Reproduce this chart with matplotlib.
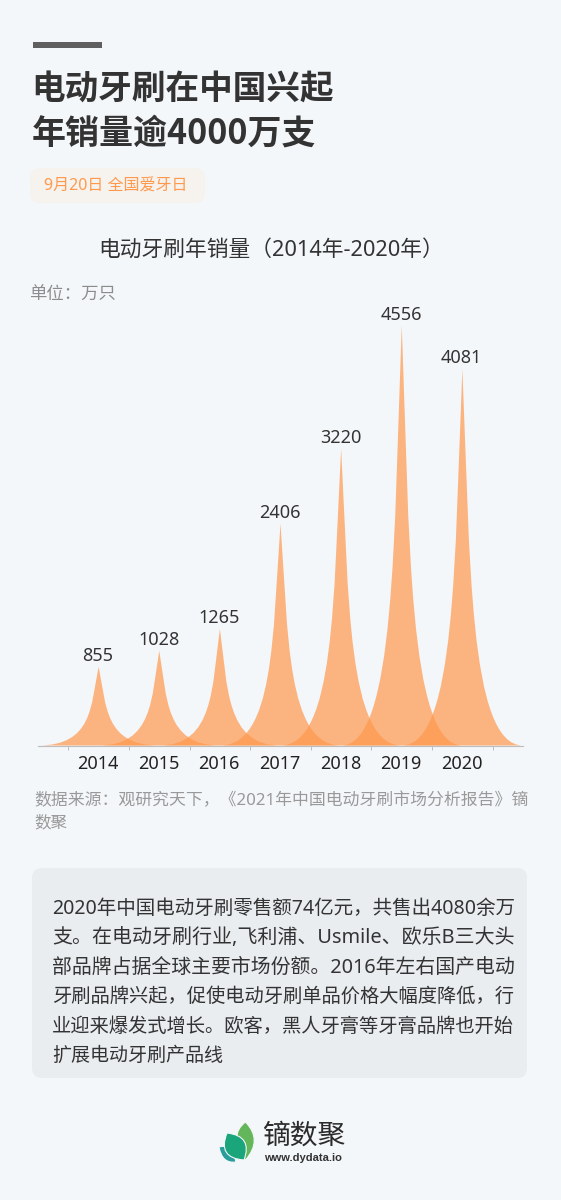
import matplotlib
matplotlib.use('Agg')
from matplotlib import pyplot as plt
from matplotlib.patches import FancyBboxPatch, PathPatch
from matplotlib.path import Path

plt.rcParams['font.family'] = ['Noto Sans', 'Noto Sans CJK SC', 'DejaVu Sans']

W = 561
H = 1200
BG = '#F4F7FA'

years = ['2014', '2015', '2016', '2017', '2018', '2019', '2020']
sales = [855, 1028, 1265, 2406, 3220, 4556, 4081]

title_lines = ['电动牙刷在中国兴起', '年销量逾4000万支']
body_lines = [
    '2020年中国电动牙刷零售额74亿元，共售出4080余万',
    '支。在电动牙刷行业,飞利浦、Usmile、欧乐B三大头',
    '部品牌占据全球主要市场份额。2016年左右国产电动',
    '牙刷品牌兴起，促使电动牙刷单品价格大幅度降低，行',
    '业迎来爆发式增长。欧客，黑人牙膏等牙膏品牌也开始',
    '扩展电动牙刷产品线',
]

fig = plt.figure(figsize=(W / 100, H / 100), dpi=100, facecolor=BG)

# full page layer, works in pixels from the top left
page = fig.add_axes([0, 0, 1, 1])
page.set_xlim(0, W)
page.set_ylim(H, 0)
page.axis('off')


def rounded(x0, y0, x1, y1, r, color):
    page.add_patch(FancyBboxPatch((x0 + r, y0 + r), x1 - x0 - 2 * r, y1 - y0 - 2 * r,
                                  boxstyle='round,pad=%d,rounding_size=%d' % (r, r),
                                  fc=color, ec='none'))


def fit_text(x, y, s, size, color, width):
    # the original lines are justified, so nudge the size until the line fills its width
    t = page.text(x, y, s, fontsize=size, color=color, va='center')
    w = t.get_window_extent(fig.canvas.get_renderer()).width
    t.set_fontsize(size * width / w)
    return t


def leaf(start, c1, end, c2, color):
    # two sided leaf, curve out through c1 and back through c2
    p = Path([start, c1, end, c2, start, start],
             [Path.MOVETO, Path.CURVE3, Path.CURVE3, Path.CURVE3, Path.CURVE3, Path.CLOSEPOLY])
    page.add_patch(PathPatch(p, fc=color, ec=BG, lw=0.8))


page.add_patch(plt.Rectangle((33, 42), 69, 6, fc='#5F5F5F', ec='none'))
# Noto Sans has no bold here, so the title stays in the CJK face for its digits too
page.text(31, 89, title_lines[0], fontsize=24.2, fontweight='bold', color='#333333', va='center',
          family='Noto Sans CJK SC')
page.text(31.5, 133, title_lines[1], fontsize=24.5, fontweight='bold', color='#333333', va='center',
          family='Noto Sans CJK SC')

rounded(30, 168, 205, 203, 10, '#F6F2EE')
page.text(44, 187, '9月20日 全国爱牙日', fontsize=11.5, color='#FF9A4D', va='center')

fit_text(98, 250, '电动牙刷年销量（2014年-2020年）', 15.6, '#333333', 345)
page.text(29, 295, '单位：万只', fontsize=12.5, color='#8C8C8C', va='center')

fit_text(34.5, 801, '数据来源：观研究天下，《2021年中国电动牙刷市场分析报告》镝', 11.9, '#999999', 493)
page.text(34.5, 823, '数聚', fontsize=11.9, color='#999999', va='center')

rounded(32, 868, 527, 1078, 10, '#E9EDF0')
for i, line in enumerate(body_lines):
    y = 909 + i * 29.4
    if i < len(body_lines) - 1:
        fit_text(52, y, line, 13.7, '#333333', 462)
    else:
        page.text(52, y, line, fontsize=13.7, color='#333333', va='center')

# logo leaves
leaf((245.5, 1122), (263, 1140), (245.5, 1160), (228, 1135), '#63B75A')
leaf((219, 1147), (232, 1143), (236, 1162), (222, 1164), '#2A9D9A')
leaf((227, 1133), (253, 1136), (244, 1160), (217, 1158), '#1BA57A')
page.text(262, 1137, '镝数聚', fontsize=20, color='#2B2B2B', va='center')
page.text(264, 1158, 'www.dydata.io', fontsize=8, fontweight='bold', color='#333333',
          va='center', family='Liberation Sans')

# chart layer
ax = fig.add_axes([38 / W, 1 - 745.5 / H, (523 - 38) / W, 420.5 / H])
ax.set_facecolor('none')
ax.set_xlim(-1, 7)
ax.set_ylim(0, 4556)
for side in ['top', 'left', 'right']:
    ax.spines[side].set_visible(False)
ax.spines['bottom'].set_color('#BDBDBD')
ax.spines['bottom'].set_linewidth(0.8)
ax.set_yticks([])
ax.set_xticks([i - 0.5 for i in range(8)])
ax.set_xticklabels([])
ax.tick_params(axis='x', length=3, width=0.7, color='#BDBDBD')

for i, (year, val) in enumerate(zip(years, sales)):
    # spike shape, flat base two categories wide
    verts = [(i - 1, 0), (i + 1, 0), (i + 0.1, 0), (i + 0.13, val / 2), (i, val),
             (i - 0.13, val / 2), (i - 0.1, 0), (i - 1, 0), (i - 1, 0)]
    codes = [Path.MOVETO, Path.LINETO, Path.CURVE4, Path.CURVE4, Path.CURVE4,
             Path.CURVE4, Path.CURVE4, Path.CURVE4, Path.CLOSEPOLY]
    ax.add_patch(PathPatch(Path(verts, codes), fc='#FF984D', ec='none', alpha=0.7, clip_on=False))
    ax.annotate(str(val), (i, val), xytext=(-0.5, 1), textcoords='offset points', ha='center',
                va='bottom', fontsize=13, color='#333333', annotation_clip=False)
    ax.annotate(year, (i, 0), xytext=(-0.5, -13.5), textcoords='offset points', ha='center',
                va='center', fontsize=13, color='#222222', annotation_clip=False)

fig.savefig('out.png', dpi=100, facecolor=BG)
